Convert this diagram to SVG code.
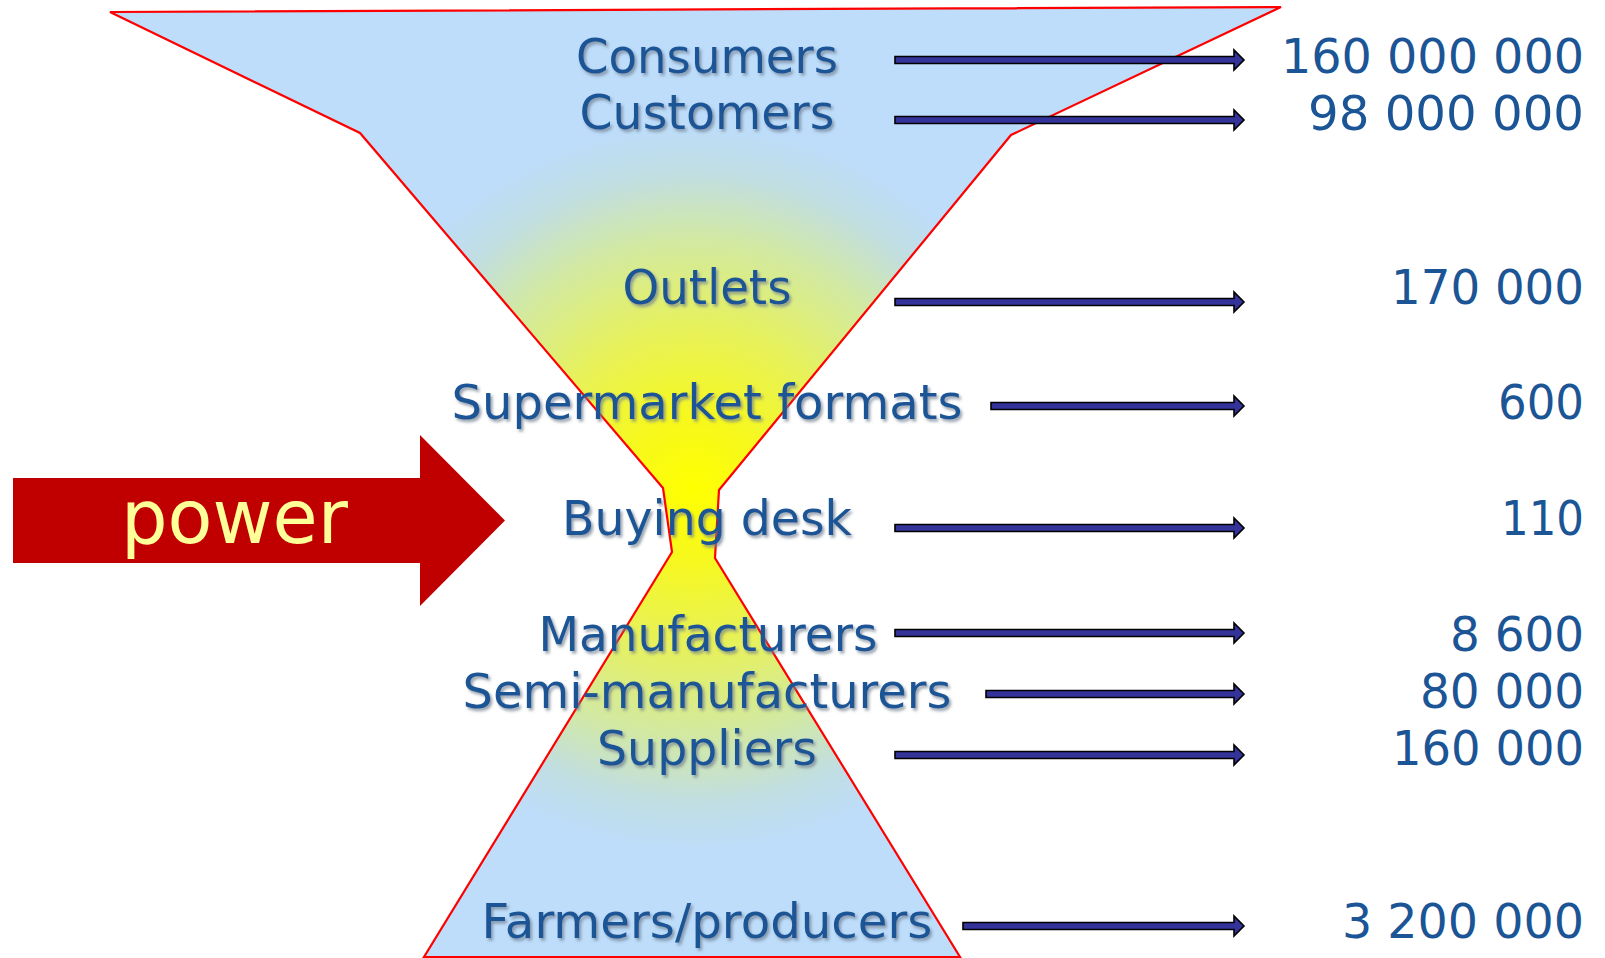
<svg xmlns="http://www.w3.org/2000/svg" width="1605" height="958" viewBox="0 0 1605 958">
<defs>
<radialGradient id="glow" gradientUnits="userSpaceOnUse" cx="693" cy="488" r="365">
<stop offset="0" stop-color="#FFFF00"/>
<stop offset="0.2" stop-color="#F6F81E"/>
<stop offset="0.45" stop-color="#E6F15E"/>
<stop offset="0.68" stop-color="#D2E9A2"/>
<stop offset="0.86" stop-color="#C1DEE2"/>
<stop offset="1" stop-color="#BDDDFB"/>
</radialGradient>
<filter id="shadow" x="-5%" y="-20%" width="110%" height="150%">
<feDropShadow dx="2" dy="2.5" stdDeviation="1.5" flood-color="#6F7F8F" flood-opacity="0.75"/>
</filter>
<style>
.lbl{font-family:"DejaVu Sans","Liberation Sans",sans-serif;font-size:48px;fill:#1B5596;text-anchor:middle;filter:url(#shadow)}
.num{font-family:"DejaVu Sans","Liberation Sans",sans-serif;font-size:48px;fill:#1B5596;text-anchor:end}
.conn{fill:#333399;stroke:#000;stroke-width:1.6;stroke-linejoin:miter}
</style>
</defs>
<rect width="1605" height="958" fill="#FFFFFF"/>
<g id="funnel">
<polygon points="110,12 1281,7 1011,135 719,490 715,558 960,957 424,957 672,552 663,488 360,133" fill="url(#glow)" stroke="#FF0000" stroke-width="2.2" stroke-linejoin="miter"/>
</g>
<g id="power">
<polygon points="13,478 420,478 420,435 505,520.5 420,606 420,563 13,563" fill="#C00000"/>
<text x="121" y="543" font-family="DejaVu Sans, Liberation Sans, sans-serif" font-size="74" fill="#FFFF99" textLength="227" lengthAdjust="spacingAndGlyphs">power</text>
</g>
<g id="connectors">
<path class="conn" d="M895,56.5 H1234 V50 L1244,60 L1234,70 V63.5 H895 Z"/>
<path class="conn" d="M895,116.5 H1234 V110 L1244,120 L1234,130 V123.5 H895 Z"/>
<path class="conn" d="M895,298.5 H1234 V292 L1244,302 L1234,312 V305.5 H895 Z"/>
<path class="conn" d="M991,402.5 H1234 V396 L1244,406 L1234,416 V409.5 H991 Z"/>
<path class="conn" d="M895,524.5 H1234 V518 L1244,528 L1234,538 V531.5 H895 Z"/>
<path class="conn" d="M895,629.5 H1234 V623 L1244,633 L1234,643 V636.5 H895 Z"/>
<path class="conn" d="M986,690.5 H1234 V684 L1244,694 L1234,704 V697.5 H986 Z"/>
<path class="conn" d="M895,751.5 H1234 V745 L1244,755 L1234,765 V758.5 H895 Z"/>
<path class="conn" d="M963,922.5 H1234 V916 L1244,926 L1234,936 V929.5 H963 Z"/>
</g>
<g id="consumers"><text class="lbl" x="707" y="73" textLength="262" lengthAdjust="spacingAndGlyphs">Consumers</text><text class="num" x="1584" y="73" textLength="303" lengthAdjust="spacingAndGlyphs">160 000 000</text></g>
<g id="customers"><text class="lbl" x="707" y="129" textLength="255" lengthAdjust="spacingAndGlyphs">Customers</text><text class="num" x="1584" y="130" textLength="276" lengthAdjust="spacingAndGlyphs">98 000 000</text></g>
<g id="outlets"><text class="lbl" x="707" y="304" textLength="169" lengthAdjust="spacingAndGlyphs">Outlets</text><text class="num" x="1584" y="304" textLength="193" lengthAdjust="spacingAndGlyphs">170 000</text></g>
<g id="supermarket"><text class="lbl" x="707" y="419" textLength="511" lengthAdjust="spacingAndGlyphs">Supermarket formats</text><text class="num" x="1584" y="419" textLength="86" lengthAdjust="spacingAndGlyphs">600</text></g>
<g id="buying"><text class="lbl" x="707" y="535" textLength="290" lengthAdjust="spacingAndGlyphs">Buying desk</text><text class="num" x="1584" y="535" textLength="83" lengthAdjust="spacingAndGlyphs">110</text></g>
<g id="manufacturers"><text class="lbl" x="708" y="651" textLength="339" lengthAdjust="spacingAndGlyphs">Manufacturers</text><text class="num" x="1584" y="651" textLength="134" lengthAdjust="spacingAndGlyphs">8 600</text></g>
<g id="semi"><text class="lbl" x="707" y="708" textLength="489" lengthAdjust="spacingAndGlyphs">Semi-manufacturers</text><text class="num" x="1584" y="708" textLength="164" lengthAdjust="spacingAndGlyphs">80 000</text></g>
<g id="suppliers"><text class="lbl" x="707" y="765" textLength="220" lengthAdjust="spacingAndGlyphs">Suppliers</text><text class="num" x="1584" y="765" textLength="192" lengthAdjust="spacingAndGlyphs">160 000</text></g>
<g id="farmers"><text class="lbl" x="707" y="938" textLength="451" lengthAdjust="spacingAndGlyphs">Farmers/producers</text><text class="num" x="1584" y="938" textLength="242" lengthAdjust="spacingAndGlyphs">3 200 000</text></g>
</svg>
